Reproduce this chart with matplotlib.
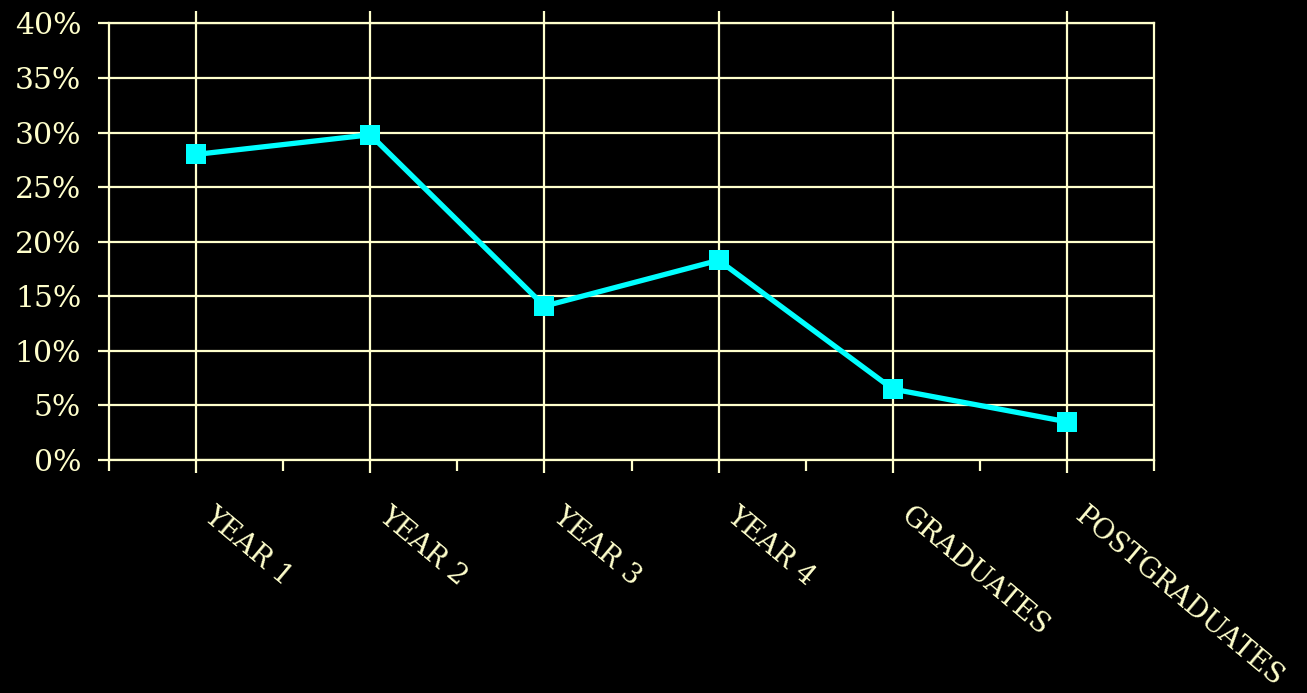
import matplotlib
matplotlib.use("Agg")
import matplotlib.pyplot as plt
from matplotlib.ticker import FixedLocator, PercentFormatter
import matplotlib.transforms as mtransforms

# share of respondents by year of study
groups = ["YEAR 1", "YEAR 2", "YEAR 3", "YEAR 4", "GRADUATES", "POSTGRADUATES"]
share = [28.0, 29.8, 14.1, 18.3, 6.5, 3.5]
y_ticks = [0, 5, 10, 15, 20, 25, 30, 35, 40]

cream = "#FFFFCC"
cyan = "#00FFFF"

plt.rcParams["font.family"] = ["DejaVu Serif"]

fig = plt.figure(figsize=(13.07, 6.93), dpi=100, facecolor="black")
ax = fig.add_axes([0.0834, 0.3362, 0.7996, 0.6300], facecolor="black")

x = list(range(len(groups)))
ax.plot(x, share, color=cyan, lw=3.8, marker="s", markersize=14,
        markeredgewidth=0, zorder=3, clip_on=False)

ax.set_xlim(-0.5, len(groups) - 0.5)
ax.set_ylim(0, 40)
ax.set_yticks(y_ticks)
ax.yaxis.set_major_formatter(PercentFormatter(decimals=0))

ax.set_xticks(x)
ax.xaxis.set_minor_locator(FixedLocator([i - 0.5 for i in range(len(groups) + 1)]))
ax.set_xticklabels([])

ax.grid(True, which="major", color=cream, lw=1.6)
ax.set_axisbelow(True)
for s in ax.spines.values():
    s.set_color(cream)
    s.set_linewidth(1.6)

ax.tick_params(axis="y", which="major", direction="out", length=8, width=1.6,
               color=cream, labelcolor=cream, labelsize=21.5, pad=12)
ax.tick_params(axis="x", which="major", direction="out", length=9, width=1.6,
               color=cream, top=True, bottom=True, labeltop=False)
ax.tick_params(axis="x", which="minor", direction="out", length=8, width=1.6,
               color=cream, top=False, bottom=True)

# slanted category labels, hung just right of each gridline
label_tr = mtransforms.offset_copy(ax.get_xaxis_transform(), fig=fig,
                                   x=20, y=-42, units="dots")
for i, g in enumerate(groups):
    ax.text(i, 0, g, transform=label_tr, rotation=-40, rotation_mode="anchor",
            ha="left", va="top", fontsize=20, color=cream, clip_on=False)

fig.savefig("out.png", dpi=100, facecolor="black")
